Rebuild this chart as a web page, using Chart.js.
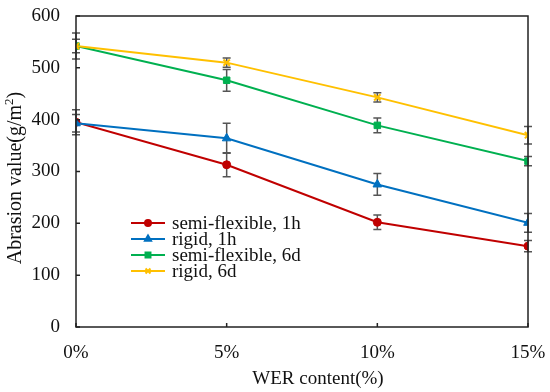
<!DOCTYPE html>
<html>
<head>
<meta charset="utf-8">
<script src="https://cdn.jsdelivr.net/npm/chart.js@4/dist/chart.umd.min.js"></script>
<style>
  html, body { margin: 0; padding: 0; background: #fff; }
  #wrap { width: 550px; height: 392px; position: relative; }
</style>
</head>
<body>
<div id="wrap"><canvas id="chart"></canvas></div>
<script>
// WER content (%) on the x axis
const werContent = [0, 5, 10, 15];

// Abrasion values (g/m2) and error bar half-widths
const semiFlex1h = [395, 313, 202, 156];
const semiFlex1hErr = [24, 23, 14, 11];
const rigid1h = [393, 364, 275, 201];
const rigid1hErr = [17, 29, 21, 18];
const semiFlex6d = [542, 476, 389, 320];
const semiFlex6dErr = [13, 21, 14, 9];
const rigid6d = [542, 510, 443, 370];
const rigid6dErr = [25, 9, 9, 17];

const yTicks = [0, 100, 200, 300, 400, 500, 600];

const FONT = '"Liberation Serif", "Times New Roman", serif';

function toPoints(values) {
    return werContent.map((x, i) => ({ x: x, y: values[i] }));
}

const series = [
    { label: 'semi-flexible, 1h', data: semiFlex1h, err: semiFlex1hErr, color: '#C00000', style: 'circle', radius: 4 },
    { label: 'rigid, 1h', data: rigid1h, err: rigid1hErr, color: '#0070C0', style: 'triangle', radius: 5 },
    { label: 'semi-flexible, 6d', data: semiFlex6d, err: semiFlex6dErr, color: '#00B050', style: 'rect', radius: 4.6 },
    { label: 'rigid, 6d', data: rigid6d, err: rigid6dErr, color: '#FFC000', style: 'crossRot', radius: 4.5 }
];

// error bars, axis box, inner ticks, titles and legend
const decorations = {
    id: 'decorations',
    beforeDatasetsDraw(chart) {
        const ctx = chart.ctx;
        const xs = chart.scales.x, ys = chart.scales.y;
        ctx.save();
        ctx.strokeStyle = '#555';
        ctx.lineWidth = 1.5;
        series.forEach(s => {
            s.data.forEach((v, i) => {
                const px = xs.getPixelForValue(werContent[i]);
                const top = ys.getPixelForValue(v + s.err[i]);
                const bot = ys.getPixelForValue(v - s.err[i]);
                ctx.beginPath();
                ctx.moveTo(px, top); ctx.lineTo(px, bot);
                ctx.moveTo(px - 4, top); ctx.lineTo(px + 4, top);
                ctx.moveTo(px - 4, bot); ctx.lineTo(px + 4, bot);
                ctx.stroke();
            });
        });
        ctx.restore();
    },
    afterDraw(chart) {
        const ctx = chart.ctx;
        const a = chart.chartArea;
        const xs = chart.scales.x, ys = chart.scales.y;
        ctx.save();
        // plot box
        ctx.strokeStyle = '#222';
        ctx.lineWidth = 1.5;
        ctx.strokeRect(a.left, a.top, a.right - a.left, a.bottom - a.top);
        // inner ticks
        ctx.beginPath();
        yTicks.forEach(t => {
            const py = ys.getPixelForValue(t);
            ctx.moveTo(a.left, py); ctx.lineTo(a.left + 4, py);
        });
        werContent.forEach(t => {
            const px = xs.getPixelForValue(t);
            ctx.moveTo(px, a.bottom); ctx.lineTo(px, a.bottom - 4);
        });
        ctx.stroke();

        // axis titles
        ctx.fillStyle = '#111';
        ctx.font = '19px ' + FONT;
        ctx.textAlign = 'center';
        ctx.textBaseline = 'middle';
        ctx.fillText('WER content(%)', 318, 379);

        // y title with a real superscript
        ctx.save();
        ctx.translate(16, 178);
        ctx.rotate(-Math.PI / 2);
        ctx.textAlign = 'left';
        ctx.font = '20px ' + FONT;
        const partA = 'Abrasion value(g/m', partC = ')';
        const wA = ctx.measureText(partA).width, wC = ctx.measureText(partC).width;
        ctx.font = '13px ' + FONT;
        const wB = ctx.measureText('2').width;
        let x0 = -(wA + wB + wC) / 2;
        ctx.font = '20px ' + FONT;
        ctx.fillText(partA, x0, 0);
        ctx.font = '13px ' + FONT;
        ctx.fillText('2', x0 + wA, -6);
        ctx.font = '20px ' + FONT;
        ctx.fillText(partC, x0 + wA + wB, 0);
        ctx.restore();

        // legend inside the plot
        ctx.font = '19px ' + FONT;
        ctx.textAlign = 'left';
        series.forEach((s, i) => {
            const ly = 223 + 16 * i;
            ctx.strokeStyle = s.color;
            ctx.lineWidth = 2;
            ctx.beginPath();
            ctx.moveTo(131, ly); ctx.lineTo(165, ly);
            ctx.stroke();
            ctx.fillStyle = s.color;
            Chart.helpers.drawPoint(ctx, {
                pointStyle: s.style, radius: Math.min(s.radius, 4.5) - 1, rotation: 0, borderWidth: s.style === 'crossRot' ? 1.5 : 1
            }, 148, ly);
            ctx.fillStyle = '#111';
            ctx.fillText(s.label, 172, ly + 1);
        });
        ctx.restore();
    }
};

new Chart(document.getElementById('chart'), {
    type: 'line',
    data: {
        datasets: series.map((s, i) => ({
            label: s.label,
            data: toPoints(s.data),
            borderColor: s.color,
            backgroundColor: s.color,
            borderWidth: 2,
            pointStyle: s.style,
            pointRadius: s.radius,
            pointBorderWidth: s.style === 'crossRot' ? 2 : 1,
            pointBackgroundColor: s.color,
            pointBorderColor: s.color,
            tension: 0,
            order: 3 - i
        }))
    },
    options: {
        responsive: true,
        maintainAspectRatio: false,
        animation: false,
        layout: { padding: { top: 16, right: 22, left: 0, bottom: 0 } },
        plugins: { legend: { display: false }, tooltip: { enabled: false } },
        scales: {
            x: {
                type: 'linear',
                min: 0, max: 15,
                grid: { display: false, drawTicks: false },
                border: { display: false },
                afterFit(scale) {
                    scale.height = 65;
                    scale.paddingLeft = 0; scale.paddingRight = 0;
                },
                afterBuildTicks(scale) { scale.ticks = werContent.map(v => ({ value: v })); },
                ticks: {
                    padding: 15,
                    color: '#111',
                    font: { family: FONT, size: 19 },
                    callback: v => v + '%'
                }
            },
            y: {
                min: 0, max: 600,
                grid: { display: false, drawTicks: false },
                border: { display: false },
                afterFit(scale) {
                    scale.width = 76;
                    scale.paddingTop = 0; scale.paddingBottom = 0;
                },
                afterBuildTicks(scale) { scale.ticks = yTicks.map(v => ({ value: v })); },
                ticks: {
                    padding: 16,
                    color: '#111',
                    font: { family: FONT, size: 19 }
                }
            }
        }
    },
    plugins: [decorations]
});
</script>
</body>
</html>
